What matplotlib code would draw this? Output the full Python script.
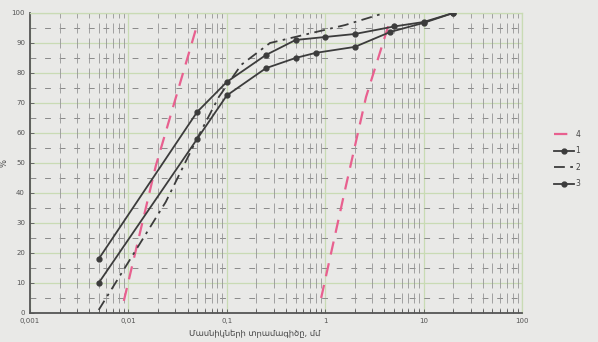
import numpy as np
import matplotlib
matplotlib.use('Agg')
import matplotlib.pyplot as plt
from matplotlib.ticker import FixedLocator, NullFormatter

#%% Grain size data (particle diameter in mm, passing in %)
d1 = [0.005, 0.05, 0.1, 0.25, 0.5, 1, 2, 5, 10, 20]
p1 = [18, 67, 77, 86, 91, 92, 93, 95.5, 97, 100]

d2 = [0.005, 0.024, 0.048, 0.083, 0.14, 0.275, 1.6, 4]
p2 = [1, 37, 57, 72, 82.7, 90, 96, 100]

d3 = [0.005, 0.05, 0.1, 0.25, 0.5, 0.8, 2, 4.6, 10, 20]
p3 = [10, 58, 72.5, 81.6, 85, 86.7, 88.7, 93.7, 96.7, 100]

# envelope lines (fine and coarse limit)
d4_fine = [0.009, 0.019, 0.05]
p4_fine = [4, 49, 96]
d4_coarse = [0.91, 1.59, 2.6, 4.5]
p4_coarse = [5, 41, 72, 97]

xticks = [0.001, 0.01, 0.1, 1, 10, 100]
xticklabels = ['0,001', '0,01', '0,1', '1', '10', '100']
yticks = list(range(0, 101, 10))

#%% Style
paper = '#e9e9e7'
grid_green = '#c9dbb4'
ink = '#3c3c3c'
pink = '#e8608f'
lw = 1.3

fig = plt.figure(figsize=(5.98, 3.42), dpi=100, facecolor=paper)
ax = fig.add_axes([0.05, 0.085, 0.823, 0.877], facecolor=paper)
ax.set_xscale('log')
ax.set_xlim(0.001, 100)
ax.set_ylim(0, 100)

# log paper: green main lines, dashed half-lines, short minor marks
for y in yticks:
    ax.axhline(y, color=grid_green, lw=0.9, zorder=0)
for x in xticks:
    ax.axvline(x, color=grid_green, lw=0.9, zorder=0)
for y in range(5, 100, 10):
    ax.axhline(y, color='#8a8a8a', lw=0.7, dashes=(6, 9), zorder=0)

minor_x = [m * 10.0**e for e in range(-3, 2) for m in range(2, 10)]
for y in range(0, 101, 5):
    ax.vlines(minor_x, y - 1.6, y + 1.6, color='#959595', lw=0.6, zorder=0)

#%% Curves
ax.plot(d4_fine, p4_fine, color=pink, lw=lw + 0.3, dashes=(6, 4), label='4', zorder=3)
ax.plot(d4_coarse, p4_coarse, color=pink, lw=lw + 0.3, dashes=(6, 4), zorder=3)
ax.plot(d1, p1, color=ink, lw=lw, marker='o', ms=3.5, label='1', zorder=4)
ax.plot(d2, p2, color=ink, lw=lw, dashes=(6, 3, 1.5, 3), label='2', zorder=4)
ax.plot(d3, p3, color=ink, lw=lw, marker='o', ms=3.5, label='3', zorder=4)

#%% Axes
ax.xaxis.set_major_locator(FixedLocator(xticks))
ax.xaxis.set_minor_locator(FixedLocator(minor_x))
ax.xaxis.set_minor_formatter(NullFormatter())
ax.set_xticklabels(xticklabels)
ax.set_yticks(yticks)
ax.tick_params(axis='both', which='both', direction='in', labelsize=5,
               colors='#555555', length=3, width=0.6)
ax.tick_params(axis='x', pad=4)

for side in ['top', 'right']:
    ax.spines[side].set_color(grid_green)
    ax.spines[side].set_linewidth(0.9)
for side in ['left', 'bottom']:
    ax.spines[side].set_color('#555555')
    ax.spines[side].set_linewidth(1.3)

ax.set_xlabel('Մասնիկների տրամագիծը, մմ', fontsize=6, color='#444444',
              family='DejaVu Sans')
ax.xaxis.set_label_coords(0.457, -0.052)
ax.set_ylabel('%', fontsize=6, color='#444444', labelpad=2)

fig.legend(loc='center left', bbox_to_anchor=(0.915, 0.535), frameon=False,
           fontsize=5.5, handlelength=2.6, labelspacing=1.0, handletextpad=0.2,
           labelcolor='#444444')

fig.savefig('out.png', dpi=100, facecolor=paper)
